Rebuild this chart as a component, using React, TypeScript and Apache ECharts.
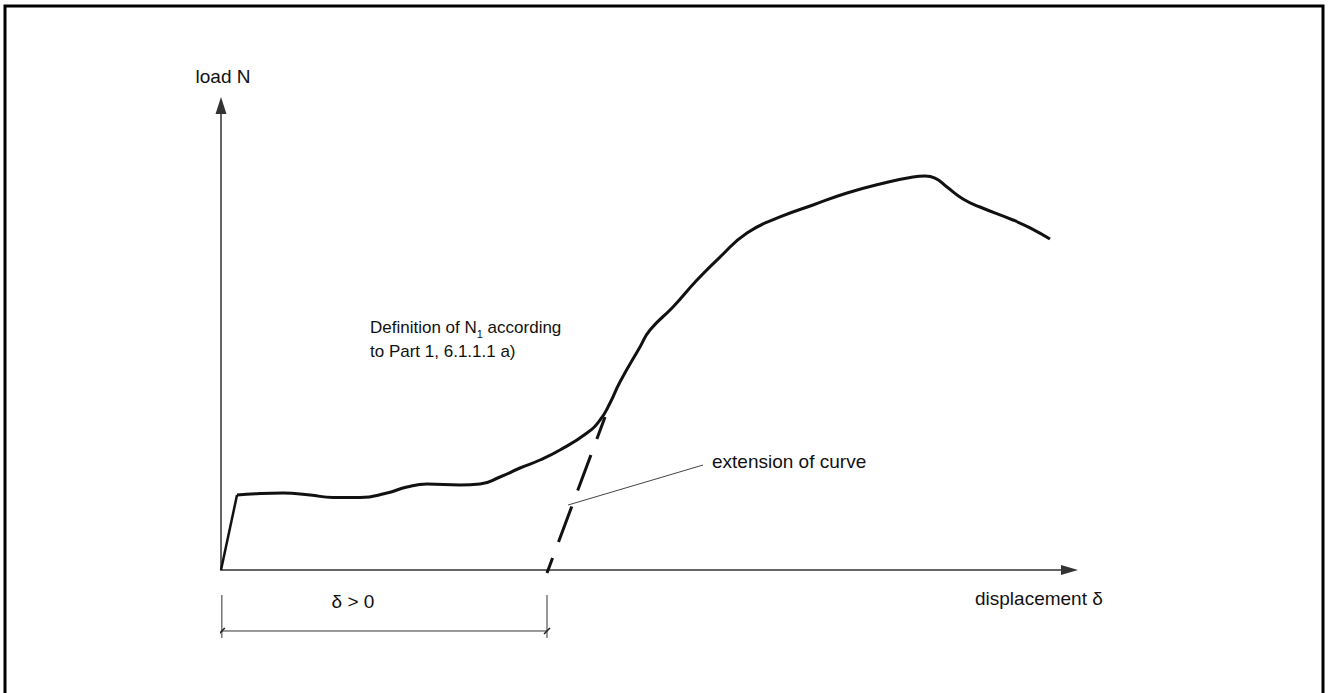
import React, { useEffect, useRef } from "react";
import * as echarts from "echarts";

// Load–displacement curve (x: displacement, y: load), arbitrary units 0..100
const riseX = [0, 1.89];
const riseY = [0, 16.15];

const curveX = [
  1.89, 4.6, 7.31, 10.49, 13.2, 16.38, 19.56, 21.92, 24.28, 28.17, 30.52, 32.88,
  35.24, 37.6, 39.95, 43.13, 44.67, 45.85, 47.02, 49.38, 50.56, 53.27, 56.1, 58.81,
  61.99, 65.88, 69.77, 73.78, 77.67, 81.56, 82.97, 84.15, 85.56, 87.45, 89.45, 93.34,
  95.35, 97.7,
];
const curveY = [
  16.15, 16.47, 16.58, 16.15, 15.61, 15.61, 16.58, 17.87, 18.51, 18.3, 18.51, 20.02,
  21.96, 23.68, 25.83, 29.49, 32.29, 35.95, 40.47, 48.01, 51.67, 56.62, 62.43, 67.38,
  72.55, 76.0, 78.58, 81.16, 83.1, 84.61, 84.82, 84.39, 82.45, 79.87, 78.15, 75.35,
  73.66, 71.26,
];

// Extension of the curve (dashed)
const extX = [38.42, 45.26];
const extY = [-0.65, 32.94];

// Leader line from the label to the dashed extension
const leaderX = [40.9, 56.81];
const leaderY = [13.99, 22.6];

// Dimension "δ > 0"
const dimStart = 0.1;
const dimEnd = 38.42;
const dimLevel = -13.13;
const extTop = -5.38;
const extBottom = -14.64;

const labels = {
  yName: "load N",
  xName: "displacement δ",
  dim: "δ > 0",
  ext: "extension of curve",
  defLine1a: "Definition of N",
  defSub: "1",
  defLine1b: " according",
  defLine2: "to Part 1, 6.1.1.1 a)",
};

const FONT = "'Liberation Sans', Arial, Helvetica, sans-serif";

function pairs(xs: number[], ys: number[]) {
  return xs.map((x, i) => [x, ys[i]]);
}

export default function App() {
  const ref = useRef<HTMLDivElement>(null);

  useEffect(() => {
    if (!ref.current) return;
    const chart = echarts.init(ref.current, undefined, { renderer: "svg" });

    const thin = { color: "#333", width: 1 };
    const axisCommon = {
      type: "value" as const,
      min: 0,
      max: 100,
      axisTick: { show: false },
      axisLabel: { show: false },
      splitLine: { show: false },
    };
    const seg = (xs: number[], ys: number[], ls: any, z = 3) => ({
      type: "line",
      data: pairs(xs, ys),
      symbol: "none",
      silent: true,
      clip: false,
      z,
      lineStyle: ls,
    });

    const option: any = {
      animation: false,
      backgroundColor: "#fff",
      grid: { left: 221, right: 258.5, top: 105.5, bottom: 123, containLabel: false },
      xAxis: {
        ...axisCommon,
        axisLine: {
          show: true,
          onZero: false,
          symbol: ["none", "triangle"],
          symbolSize: [10, 17],
          lineStyle: { color: "#333", width: 1.5 },
        },
      },
      yAxis: {
        ...axisCommon,
        axisLine: {
          show: true,
          onZero: false,
          symbol: ["none", "triangle"],
          symbolSize: [11, 17],
          lineStyle: { color: "#333", width: 1.5 },
        },
      },
      series: [
        seg(riseX, riseY, { color: "#111", width: 2.5 }, 5),
        {
          type: "line",
          data: pairs(curveX, curveY),
          smooth: 0.5,
          symbol: "none",
          silent: true,
          z: 5,
          lineStyle: { color: "#111", width: 3 },
        },
        seg(extX, extY, { color: "#111", width: 3, type: [38, 17], dashOffset: 22 }, 5),
        seg(leaderX, leaderY, { color: "#444", width: 1 }),
        seg([dimStart, dimEnd], [dimLevel, dimLevel], thin),
        seg([dimStart, dimStart], [extTop, extBottom], thin),
        seg([dimEnd, dimEnd], [extTop, extBottom], thin),
        seg([dimStart - 0.35, dimStart + 0.35], [dimLevel - 0.65, dimLevel + 0.65], { color: "#222", width: 1.5 }),
        seg([dimEnd - 0.35, dimEnd + 0.35], [dimLevel - 0.65, dimLevel + 0.65], { color: "#222", width: 1.5 }),
      ],
      graphic: [
        {
          type: "rect",
          shape: { x: 5, y: 6, width: 1318, height: 700 },
          style: { fill: "none", stroke: "#000", lineWidth: 3 },
          silent: true,
        },
        {
          type: "text",
          x: 223,
          y: 76,
          style: { text: labels.yName, font: `19px ${FONT}`, fill: "#111", align: "center", verticalAlign: "middle" },
        },
        {
          type: "text",
          x: 975,
          y: 598,
          style: { text: labels.xName, font: `19px ${FONT}`, fill: "#111", align: "left", verticalAlign: "middle" },
        },
        {
          type: "text",
          x: 353,
          y: 601,
          style: { text: labels.dim, font: `19px ${FONT}`, fill: "#111", align: "center", verticalAlign: "middle" },
        },
        {
          type: "text",
          x: 712,
          y: 461,
          style: { text: labels.ext, font: `19px ${FONT}`, fill: "#111", align: "left", verticalAlign: "middle" },
        },
        {
          type: "text",
          x: 370,
          y: 315,
          style: {
            text: `${labels.defLine1a}{sub|${labels.defSub}}${labels.defLine1b}\n${labels.defLine2}`,
            fontFamily: FONT,
            fontSize: 17,
            lineHeight: 24,
            fill: "#111",
            align: "left",
            verticalAlign: "top",
            rich: {
              sub: { fontFamily: FONT, fontSize: 11, lineHeight: 11, verticalAlign: "bottom", fill: "#111" },
            },
          },
        },
      ],
    };

    chart.setOption(option);
    return () => chart.dispose();
  }, []);

  return (
    <div
      ref={ref}
      style={{ position: "absolute", left: 0, top: 0, width: 1328, height: 693, background: "#fff" }}
    />
  );
}
